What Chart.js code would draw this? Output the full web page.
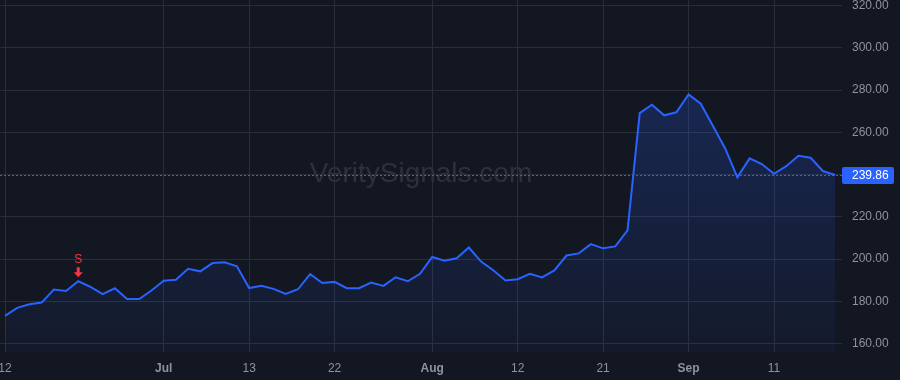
<!DOCTYPE html>
<html>
<head>
<meta charset="utf-8">
<script src="https://cdn.jsdelivr.net/npm/chart.js@4.4.1/dist/chart.umd.min.js"></script>
<style>
  html, body { margin: 0; padding: 0; background: #131722; }
  canvas { display: block; }
</style>
</head>
<body>
<canvas id="chart_divg" width="900" height="380"></canvas>
<script>
// daily closes
const closes = [
  173.1, 176.9, 178.6, 179.4, 185.6, 184.9, 189.5, 186.8, 183.4, 186.2,
  181.1, 181.1, 185.1, 189.8, 190.2, 195.4, 194.2, 198.1, 198.5, 196.6,
  186.3, 187.4, 185.9, 183.5, 185.7, 192.9, 188.7, 189.2, 186.2, 186.2,
  188.9, 187.3, 191.4, 189.5, 193.0, 201.0, 199.2, 200.4, 205.5, 198.8,
  194.7, 189.9, 190.5, 193.0, 191.3, 194.6, 201.7, 202.7, 207.1, 205.1,
  206.0, 213.6, 269.1, 273.1, 268.1, 269.5, 278.0, 273.6, 263.0, 252.4,
  238.7, 247.7, 245.0, 240.4, 244.0, 248.9, 248.0, 241.7, 239.86
];

// time axis labels (index of the bar they sit on)
const tickIdx = [0, 13, 20, 27, 35, 42, 49, 56, 63];
const tickLabels = ['12', 'Jul', '13', '22', 'Aug', '12', '21', 'Sep', '11'];
const monthLabels = ['Jul', 'Aug', 'Sep'];

// price axis
const priceTicks = [160, 180, 200, 220, 240, 260, 280, 300, 320];

// sell signal
const signalIdx = [6];
const signalText = ['S'];

const lastPrice = closes[closes.length - 1];
const fontFam = '"Liberation Sans", Arial, sans-serif';

const bgPlugin = {
  id: 'bg',
  beforeDraw(chart) {
    const ctx = chart.ctx;
    ctx.save();
    ctx.fillStyle = '#131722';
    ctx.fillRect(0, 0, chart.width, chart.height);
    // watermark
    const a = chart.chartArea;
    ctx.fillStyle = 'rgba(150, 156, 172, 0.2)';
    ctx.font = '28px ' + fontFam;
    ctx.textAlign = 'center';
    ctx.textBaseline = 'alphabetic';
    ctx.fillText('VeritySignals.com', (a.left + a.right) / 2, 182);
    ctx.restore();
  }
};

const overlayPlugin = {
  id: 'overlay',
  afterDatasetsDraw(chart) {
    const ctx = chart.ctx;
    const a = chart.chartArea;
    const xs = chart.scales.x;
    const ys = chart.scales.y;
    const py = Math.round(ys.getPixelForValue(lastPrice)) + 0.5;

    ctx.save();
    // last price dotted line
    ctx.strokeStyle = '#2962ff';
    ctx.lineWidth = 1;
    ctx.setLineDash([2, 2]);
    ctx.beginPath();
    ctx.moveTo(a.left, py);
    ctx.lineTo(a.right, py);
    ctx.stroke();
    ctx.setLineDash([]);

    // price label on axis
    ctx.fillStyle = '#2962ff';
    ctx.beginPath();
    ctx.roundRect(a.right, py - 8.5, 52, 17, 2);
    ctx.fill();
    ctx.fillStyle = '#ffffff';
    ctx.font = '12px ' + fontFam;
    ctx.textAlign = 'left';
    ctx.textBaseline = 'middle';
    ctx.fillText(lastPrice.toFixed(2), a.right + 10, py + 0.5);

    // signal markers
    signalIdx.forEach((idx, i) => {
      const x = xs.getPixelForValue(idx);
      const y = ys.getPixelForValue(closes[idx]);
      ctx.fillStyle = '#f23645';
      ctx.beginPath();
      ctx.moveTo(x - 1.5, y - 14);
      ctx.lineTo(x + 1.5, y - 14);
      ctx.lineTo(x + 1.5, y - 9);
      ctx.lineTo(x + 4.5, y - 9);
      ctx.lineTo(x, y - 4);
      ctx.lineTo(x - 4.5, y - 9);
      ctx.lineTo(x - 1.5, y - 9);
      ctx.closePath();
      ctx.fill();
      ctx.font = '12px ' + fontFam;
      ctx.textAlign = 'center';
      ctx.textBaseline = 'middle';
      ctx.fillText(signalText[i], x, y - 22);
    });
    ctx.restore();
  }
};

document.addEventListener('DOMContentLoaded', () => {
  const canvas = document.getElementById('chart_divg');
  const ctx = canvas.getContext('2d');

  new Chart(ctx, {
    type: 'line',
    data: {
      datasets: [{
        data: closes.map((v, i) => ({ x: i, y: v })),
        borderColor: '#2962ff',
        borderWidth: 2,
        pointRadius: 0,
        tension: 0,
        fill: 'start',
        backgroundColor: (c) => {
          const area = c.chart.chartArea;
          if (!area) return 'rgba(41, 98, 255, 0.12)';
          const g = c.chart.ctx.createLinearGradient(0, area.top, 0, area.bottom);
          g.addColorStop(0, 'rgba(41, 98, 255, 0.28)');
          g.addColorStop(1, 'rgba(41, 98, 255, 0.04)');
          return g;
        }
      }]
    },
    options: {
      responsive: false,
      animation: false,
      devicePixelRatio: 1,
      layout: { padding: 0 },
      plugins: {
        legend: { display: false },
        tooltip: { enabled: false }
      },
      scales: {
        x: {
          type: 'linear',
          min: -0.41,
          max: 68.57,
          afterBuildTicks: (s) => { s.ticks = tickIdx.map(v => ({ value: v })); },
          afterFit: (s) => { s.height = 28; s.paddingLeft = 0; s.paddingRight = 0; },
          grid: { color: '#2a2e39', drawTicks: false },
          border: { display: false },
          ticks: {
            autoSkip: false,
            maxRotation: 0,
            padding: 9,
            color: '#8f939e',
            font: (c) => ({
              family: fontFam,
              size: 12,
              weight: c.tick && monthLabels.includes(c.tick.label) ? 'bold' : 'normal'
            }),
            callback: (v) => {
              const k = tickIdx.indexOf(v);
              return k >= 0 ? tickLabels[k] : '';
            }
          }
        },
        y: {
          position: 'right',
          min: 156,
          max: 322.7,
          afterBuildTicks: (s) => { s.ticks = priceTicks.map(v => ({ value: v })); },
          afterFit: (s) => { s.width = 58; s.paddingTop = 0; s.paddingBottom = 0; },
          grid: { color: '#2a2e39', drawTicks: false },
          border: { display: false },
          ticks: {
            padding: 10,
            color: '#8f939e',
            font: { family: fontFam, size: 12 },
            callback: (v) => v.toFixed(2)
          }
        }
      }
    },
    plugins: [bgPlugin, overlayPlugin]
  });
});
</script>
</body>
</html>
